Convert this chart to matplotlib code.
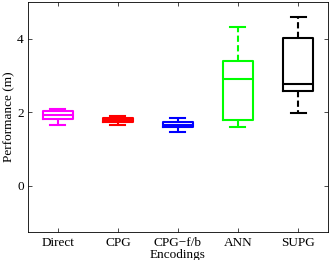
import matplotlib
matplotlib.use("Agg")
import matplotlib.pyplot as plt

categories = ["Direct", "CPG", "CPG\u2212f/b", "ANN", "SUPG"]
whis_lo = [1.65, 1.66, 1.46, 1.60, 1.98]
q1 = [1.83, 1.73, 1.60, 1.80, 2.59]
median = [1.92, 1.78, 1.67, 2.92, 2.77]
q3 = [2.03, 1.84, 1.74, 3.39, 4.02]
whis_hi = [2.09, 1.89, 1.86, 4.32, 4.60]
colors = ["#ff00ff", "#ff0000", "#0000ff", "#00ff00", "#000000"]
yticks = [0, 2, 4]

plt.rcParams['font.family'] = ['Liberation Serif', 'DejaVu Serif']
fig = plt.figure(figsize=(3.32, 2.60), dpi=100)
ax = fig.add_axes([0.084, 0.108, 0.904, 0.884])

for i in range(len(categories)):
    st = [dict(med=median[i], q1=q1[i], q3=q3[i], whislo=whis_lo[i], whishi=whis_hi[i], fliers=[])]
    c = colors[i]
    ax.bxp(st, positions=[i + 1], widths=0.5, showfliers=False,
           boxprops=dict(color=c, lw=1.5),
           medianprops=dict(color=c, lw=1.5),
           whiskerprops=dict(color=c, lw=1.5, linestyle=(0, (3, 1.6))),
           capprops=dict(color=c, lw=1.5), capwidths=0.25)

ax.set_xlim(0.5, 5.5)
ax.set_ylim(-1.25, 5.0)
ax.set_yticks(yticks)
ax.set_xticks(range(1, len(categories) + 1))
ax.set_xticklabels(categories)
ax.tick_params(direction='in', top=True, right=True, labelsize=9.5, length=3, width=0.5, pad=3)
ax.tick_params(axis='x', pad=4)
for s in ax.spines.values():
    s.set_linewidth(0.6)
ax.set_xlabel("Encodings", fontsize=9.5, labelpad=-0.5)
ax.set_ylabel("Performance (m)", fontsize=9.5, labelpad=1)
fig.savefig("out.png", dpi=100)
